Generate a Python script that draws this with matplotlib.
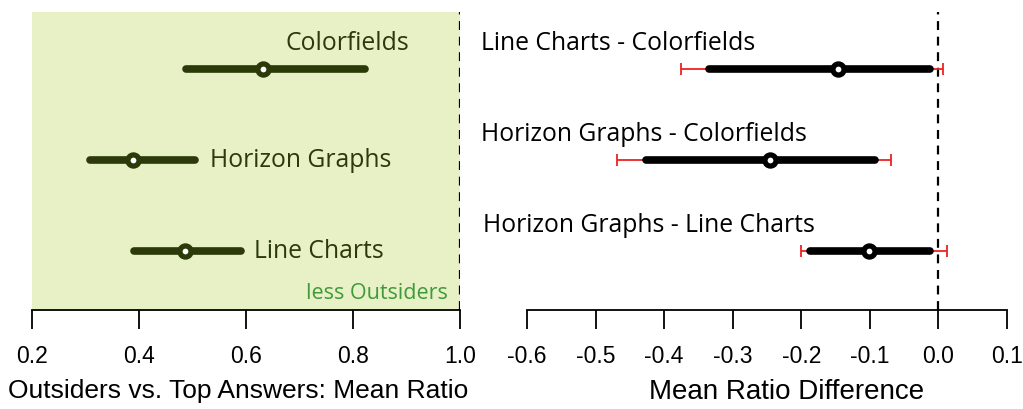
import matplotlib
matplotlib.use("Agg")
import matplotlib.pyplot as plt

# Left panel data
left_labels = ["Colorfields", "Horizon Graphs", "Line Charts"]
left_mean = [0.632, 0.389, 0.486]
left_lo = [0.488, 0.308, 0.391]
left_hi = [0.822, 0.505, 0.591]

# Right panel data
right_labels = ["Line Charts - Colorfields", "Horizon Graphs - Colorfields", "Horizon Graphs - Line Charts"]
right_mean = [-0.146, -0.245, -0.101]
right_lo = [-0.334, -0.427, -0.187]
right_hi = [-0.012, -0.093, -0.012]
right_ci_lo = [-0.376, -0.469, -0.201]
right_ci_hi = [0.006, -0.069, 0.012]

left_ticks = [0.2, 0.4, 0.6, 0.8, 1.0]
right_ticks = [-0.6, -0.5, -0.4, -0.3, -0.2, -0.1, 0.0, 0.1]

rows = [0.809, 0.502, 0.197]

W, H = 1023, 409
fig = plt.figure(figsize=(W / 100, H / 100), dpi=100)

top_px, spine_px = 12, 310
bottom = (H - spine_px) / H
height = (spine_px - top_px) / H

axL = fig.add_axes([32 / W, bottom, (460 - 32) / W, height])
axR = fig.add_axes([527 / W, bottom, (1007 - 527) / W, height])

olive = "#2b3a08"
label_font = "Open Sans"
tick_font = ["Liberation Sans Narrow", "Liberation Sans", "DejaVu Sans"]
lsize = 17.8

# Left panel
axL.set_xlim(0.2, 1.0)
axL.set_ylim(0, 1)
axL.axvspan(0.2, 1.0, color="#e8f0c6", zorder=0)
axL.axvline(1.0, color="black", linestyle=(0, (4, 3)), linewidth=1.6, zorder=3)
for i in range(3):
    y = rows[i]
    axL.plot([left_lo[i], left_hi[i]], [y, y], color=olive, linewidth=5.5,
             solid_capstyle="round", zorder=4)
    axL.plot(left_mean[i], y, marker="o", markersize=8, markeredgewidth=3.8,
             markeredgecolor=olive, markerfacecolor="white", zorder=5)

axL.text(0.789, 0.894, left_labels[0], fontsize=lsize, family=label_font, color=olive,
         ha="center", va="center")
axL.text(0.533, rows[1], left_labels[1], fontsize=lsize, family=label_font, color=olive,
         ha="left", va="center")
axL.text(0.615, rows[2], left_labels[2], fontsize=lsize, family=label_font, color=olive,
         ha="left", va="center")
axL.text(0.977, 0.055, "less Outsiders", fontsize=15.5, family=label_font, color="#3f9a3a",
         ha="right", va="center")

# Right panel
axR.set_xlim(-0.6, 0.1)
axR.set_ylim(0, 1)
axR.axvline(0.0, color="black", linestyle=(0, (4, 3)), linewidth=1.6, zorder=1)
for i in range(3):
    y = rows[i]
    axR.errorbar(right_mean[i], y,
                 xerr=[[right_mean[i] - right_ci_lo[i]], [right_ci_hi[i] - right_mean[i]]],
                 fmt="none", ecolor="#ee2222", elinewidth=1.3, capsize=4, capthick=1.3, zorder=2)
    axR.plot([right_lo[i], right_hi[i]], [y, y], color="black", linewidth=5.5,
             solid_capstyle="round", zorder=4)
    axR.plot(right_mean[i], y, marker="o", markersize=8, markeredgewidth=3.8,
             markeredgecolor="black", markerfacecolor="white", zorder=5)

label_y = [0.894, 0.59, 0.282]
label_x = [-0.667, -0.667, -0.664]
for i in range(3):
    axR.text(label_x[i], label_y[i], right_labels[i], fontsize=lsize, family=label_font,
             color="black", ha="left", va="center", clip_on=False)

for ax, ticks, title, fs, lx in [(axL, left_ticks, "Outsiders vs. Top Answers: Mean Ratio", 19, 0.481),
                                 (axR, right_ticks, "Mean Ratio Difference", 20, 0.54)]:
    for s in ["top", "right", "left"]:
        ax.spines[s].set_visible(False)
    ax.spines["bottom"].set_linewidth(1.3)
    ax.set_yticks([])
    ax.set_xticks(ticks)
    ax.set_xticklabels([f"{t:.1f}" for t in ticks], family=tick_font, fontsize=16.5)
    ax.tick_params(axis="x", direction="out", length=14, width=1.3, pad=11)
    ax.set_xlabel(title, family=tick_font, fontsize=fs)
    ax.xaxis.set_label_coords(lx, -0.232)
    ax.set_facecolor("none")

fig.savefig("out.png", dpi=100)
